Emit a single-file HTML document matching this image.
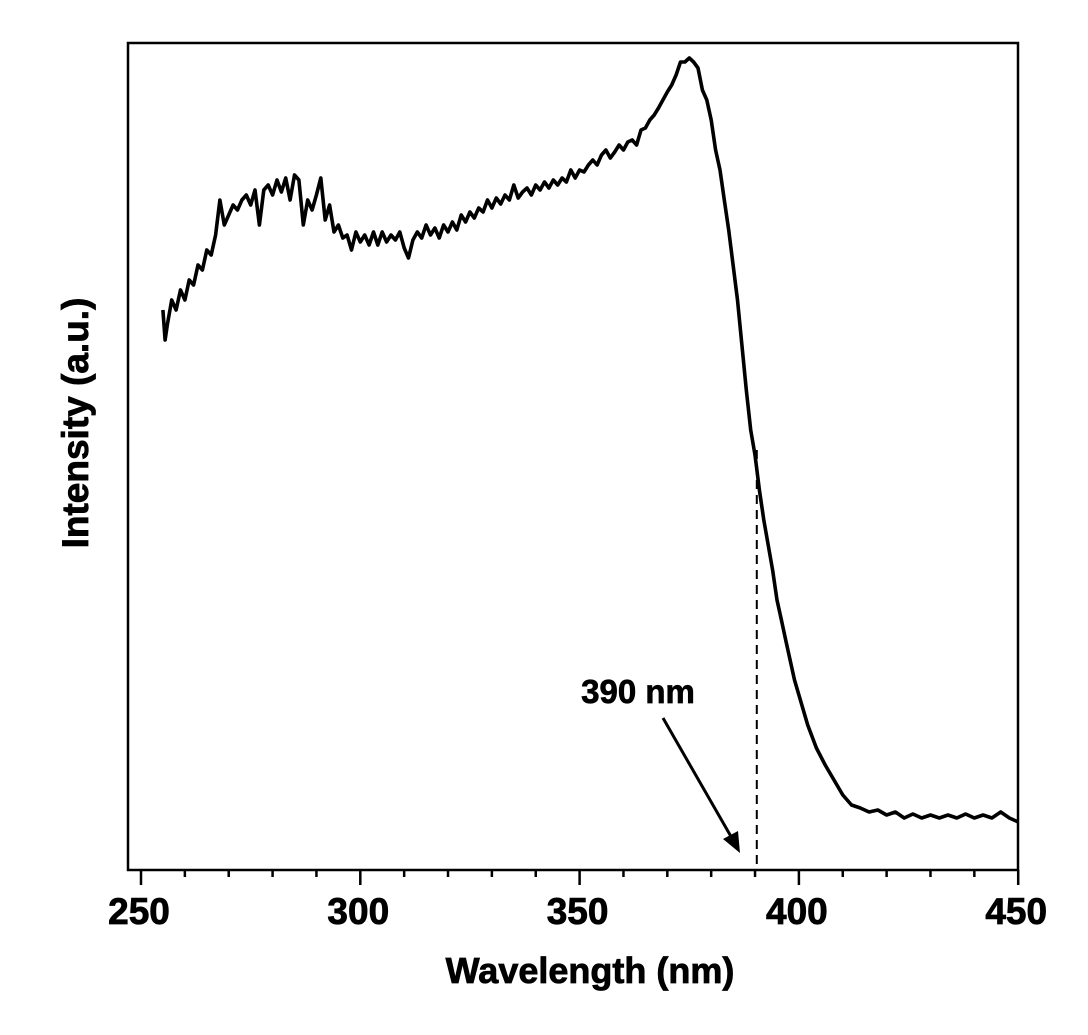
<!DOCTYPE html>
<html><head><meta charset="utf-8"><style>
html,body{margin:0;padding:0;background:#fff;}
svg text{font-family:"Liberation Sans",Arial,sans-serif;font-weight:bold;fill:#000;}
</style></head><body>
<svg id="chart" width="1088" height="1030" viewBox="0 0 1088 1030" xmlns="http://www.w3.org/2000/svg">
<rect x="128" y="43" width="890" height="827" fill="none" stroke="#000" stroke-width="2.5"/>
<g id="ticks"></g>
<g id="curve"></g>
<text x="590" y="983" font-size="36" text-anchor="middle" stroke="#000" stroke-width="0.8">Wavelength (nm)</text>
<text x="0" y="0" font-size="37" text-anchor="middle" stroke="#000" stroke-width="0.8" transform="translate(88,423) rotate(-90)">Intensity (a.u.)</text>
<text x="638" y="703" font-size="33" text-anchor="middle" stroke="#000" stroke-width="0.7">390 nm</text>
<line x1="663" y1="718" x2="733" y2="840" stroke="#000" stroke-width="3"/>
<polygon points="740,853 723,839 738,831" fill="#000"/>
</svg>
<script>
const wavelengths=[255,255.5,256,257,258,259,260,261,262,263,264,265,266,267,268,269,270,271,272,273,274,275,276,277,278,279,280,281,282,283,284,285,286,287,288,289,290,291,292,293,294,295,296,297,298,299,300,301,302,303,304,305,306,307,308,309,310,311,312,313,314,315,316,317,318,319,320,321,322,323,324,325,326,327,328,329,330,331,332,333,334,335,336,337,338,339,340,341,342,343,344,345,346,347,348,349,350,351,352,353,354,355,356,357,358,359,360,361,362,363,364,365,366,367,368,369,370,371,372,373,374,375,376,377,378,379,380,381,382,383,384,385,386,387,388,389,390,391,392,393,394,395,396,397,398,399,400,402,404,406,408,410,412,414,416,418,420,422,424,426,428,430,432,434,436,438,440,442,444,446,448,450];
const intensity=[560,530,545,570,560,580,570,590,585,605,600,620,615,635,670,645,655,665,660,670,675,665,680,645,680,685,675,690,678,692,670,695,690,645,670,660,675,692,650,665,638,645,632,635,620,638,628,635,625,638,625,638,628,635,630,638,622,612,630,638,632,645,635,642,632,645,638,648,640,655,648,658,652,662,658,670,662,672,666,675,670,685,672,678,682,675,685,680,688,682,690,685,692,688,700,692,700,698,705,710,705,715,720,712,718,725,720,728,730,725,740,742,750,755,762,770,778,785,795,808,808,812,808,802,780,770,750,720,700,670,640,605,570,525,480,440,415,380,350,325,300,270,250,230,210,190,175,145,122,105,90,75,65,62,58,60,55,58,52,56,52,55,52,55,52,56,52,55,52,58,52,48];
const xTicks=[250,300,350,400,450];
const X0=141,XS=4.386,Y0=870,YS=1.0;
function xs(v){return X0+(v-250)*XS;}
function ys(v){return Y0-v*YS;}
const NS="http://www.w3.org/2000/svg";
const tg=document.getElementById('ticks');
for(let v=250;v<=450;v+=10){
  const major=v%50===0;
  const t=document.createElementNS(NS,'line');
  
  
  t.setAttribute('x1',xs(v));t.setAttribute('x2',xs(v));
  t.setAttribute('y1',870);t.setAttribute('y2',major?885:877);
  t.setAttribute('stroke','#000');t.setAttribute('stroke-width','2.5');
  tg.appendChild(t);
}
xTicks.forEach(v=>{
  const l=document.createElementNS(NS,'text');
  
  
  l.setAttribute('x',xs(v)-2);l.setAttribute('y',924);
  l.setAttribute('font-size','37');l.setAttribute('text-anchor','middle');
  l.setAttribute('stroke','#000');l.setAttribute('stroke-width','0.8');
  l.textContent=v;tg.appendChild(l);
});
const cg=document.getElementById('curve');
const p=document.createElementNS(NS,'polyline');


p.setAttribute('points',wavelengths.map((w,i)=>xs(w).toFixed(1)+','+ys(intensity[i]).toFixed(1)).join(' '));
p.setAttribute('fill','none');p.setAttribute('stroke','#000');p.setAttribute('stroke-width','3.6');p.setAttribute('stroke-linejoin','round');
cg.appendChild(p);
const d=document.createElementNS(NS,'line');


d.setAttribute('x1',xs(390.4));d.setAttribute('x2',xs(390.4));
d.setAttribute('y1',450);d.setAttribute('y2',870);
d.setAttribute('stroke','#000');d.setAttribute('stroke-width','2');d.setAttribute('stroke-dasharray','9,6');
cg.appendChild(d);
</script>
</body></html>
